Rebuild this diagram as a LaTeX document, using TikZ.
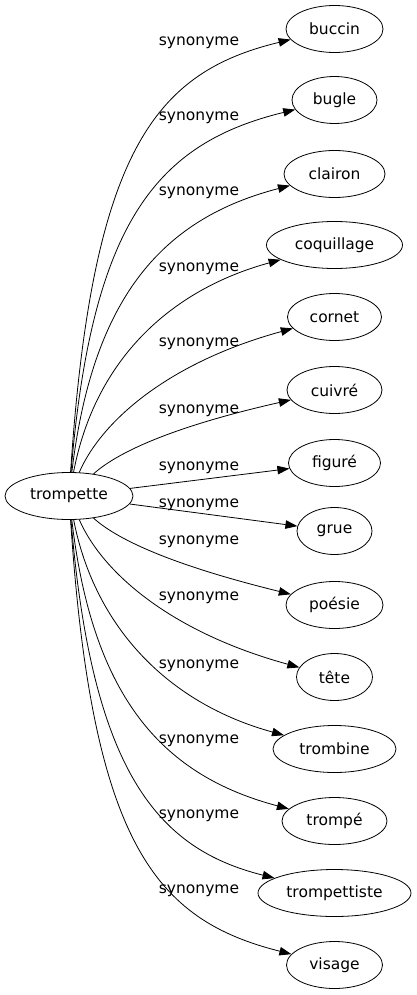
\documentclass[tikz,border=0pt]{standalone}
\usepackage{fontspec}
\setmainfont{DejaVu Sans}
\usetikzlibrary{shapes.geometric,arrows.meta}
\tikzset{
  mot/.style={draw, ellipse, minimum height=47pt, inner sep=0pt, line width=0.8pt},
  rel/.style={inner sep=0pt},
  syn/.style={line width=0.8pt, -{Triangle[length=12pt,width=8.5pt]}}
}
\begin{document}
\begin{tikzpicture}[x=1pt,y=-1pt,font=\fontsize{15.5}{19}\selectfont]
\useasboundingbox (0,0) rectangle (416,995);

\node[mot, minimum width=128pt] (trompette) at (69,496) {trompette};

\node[mot, minimum width=97pt] (buccin) at (334.5,29) {buccin};
\node[mot, minimum width=85pt] (bugle) at (334.5,100) {bugle};
\node[mot, minimum width=101pt] (clairon) at (334.5,174) {clairon};
\node[mot, minimum width=136pt] (coquillage) at (334.5,245) {coquillage};
\node[mot, minimum width=94pt] (cornet) at (334.5,317) {cornet};
\node[mot, minimum width=95pt] (cuivre) at (334.5,390) {cuivré};
\node[mot, minimum width=92pt] (figure) at (334.5,463) {figuré};
\node[mot, minimum width=75pt] (grue) at (334.5,531) {grue};
\node[mot, minimum width=97pt] (poesie) at (334.5,605) {poésie};
\node[mot, minimum width=76pt] (tete) at (334.5,677) {tête};
\node[mot, minimum width=123pt] (trombine) at (334.5,749) {trombine};
\node[mot, minimum width=105pt] (trompe) at (334.5,821) {trompé};
\node[mot, minimum width=153pt] (trompettiste) at (334.5,893) {trompettiste};
\node[mot, minimum width=96pt] (visage) at (334.5,965) {visage};

\draw[syn] (trompette) .. controls (92,149) and (156,72) .. (buccin);
\draw[syn] (trompette) .. controls (92,220) and (158,143) .. (bugle);
\draw[syn] (trompette) .. controls (93,294) and (165,218) .. (clairon);
\draw[syn] (trompette) .. controls (95,360) and (170,290) .. (coquillage);
\draw[syn] (trompette) .. controls (102,420) and (170,362) .. (cornet);
\draw[syn] (trompette) .. controls (120,450) and (180,425) .. (cuivre);
\draw[syn] (trompette) -- (figure);
\draw[syn] (trompette) -- (grue);
\draw[syn] (trompette) .. controls (120,542) and (180,567) .. (poesie);
\draw[syn] (trompette) .. controls (102,572) and (170,632) .. (tete);
\draw[syn] (trompette) .. controls (95,629) and (170,704) .. (trombine);
\draw[syn] (trompette) .. controls (93,701) and (165,776) .. (trompe);
\draw[syn] (trompette) .. controls (92,773) and (158,849) .. (trompettiste);
\draw[syn] (trompette) .. controls (92,845) and (156,920) .. (visage);

\node[rel] (lbuccin) at (199,43) {synonyme};
\node[rel] (lbugle) at (199,118) {synonyme};
\node[rel] (lclairon) at (199,193) {synonyme};
\node[rel] (lcoquillage) at (199,269) {synonyme};
\node[rel] (lcornet) at (199,344) {synonyme};
\node[rel] (lcuivre) at (199,411) {synonyme};
\node[rel] (lfigure) at (199,468) {synonyme};
\node[rel] (lgrue) at (199,505) {synonyme};
\node[rel] (lpoesie) at (199,542) {synonyme};
\node[rel] (ltete) at (199,598) {synonyme};
\node[rel] (ltrombine) at (199,666) {synonyme};
\node[rel] (ltrompe) at (199,741) {synonyme};
\node[rel] (ltrompettiste) at (199,816) {synonyme};
\node[rel] (lvisage) at (199,891) {synonyme};
\end{tikzpicture}
\end{document}
